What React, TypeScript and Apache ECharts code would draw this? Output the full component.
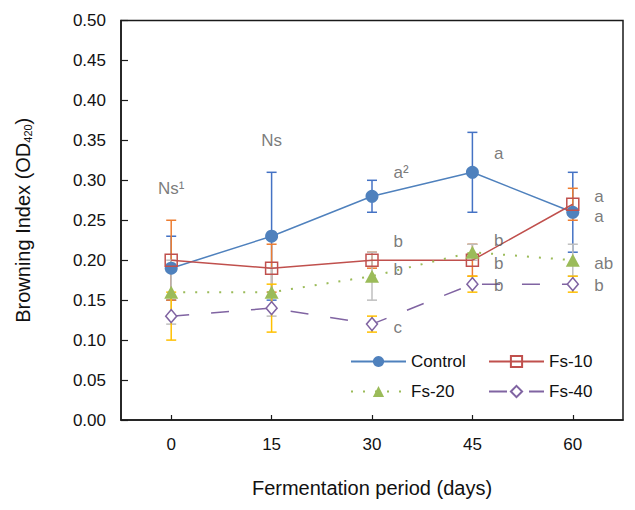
import React, { useEffect, useRef } from "react";
import * as echarts from "echarts";

const days = [0, 15, 30, 45, 60];
const yTickValues = [0, 0.05, 0.1, 0.15, 0.2, 0.25, 0.3, 0.35, 0.4, 0.45, 0.5];

const control = [0.19, 0.23, 0.28, 0.31, 0.26];
const controlErr = [0.04, 0.08, 0.02, 0.05, 0.05];
const fs10 = [0.2, 0.19, 0.2, 0.2, 0.27];
const fs10Err = [0.05, 0.03, 0.01, 0.02, 0.02];
const fs20 = [0.16, 0.16, 0.18, 0.21, 0.2];
const fs20Err = [0.04, 0.03, 0.03, 0.01, 0.02];
const fs40 = [0.13, 0.14, 0.12, 0.17, 0.17];
const fs40Err = [0.03, 0.03, 0.01, 0.01, 0.01];

// centered annotations: [day, value, text]
const centerNotes: [number, number, string][] = [
  [0, 0.29, "Ns\u00b9"],
  [15, 0.35, "Ns"],
];
// right-of-point annotations: [day, value, text]
const sideNotes: [number, number, string][] = [
  [30, 0.31, "a\u00b2"],
  [45, 0.333, "a"],
  [60, 0.28, "a"],
  [60, 0.255, "a"],
  [30, 0.224, "b"],
  [30, 0.188, "b"],
  [30, 0.116, "c"],
  [45, 0.225, "b"],
  [45, 0.196, "b"],
  [45, 0.168, "b"],
  [60, 0.196, "ab"],
  [60, 0.168, "b"],
];

const FONT = "Liberation Sans, Arial, sans-serif";

function errSeries(name: string, vals: number[], errs: number[], color: string) {
  return {
    type: "custom",
    name,
    z: 1,
    silent: true,
    data: days.map((d, i) => [d, vals[i] - errs[i], vals[i] + errs[i]]),
    encode: { x: 0, y: [1, 2] },
    renderItem: (params: any, api: any) => {
      const lo = api.coord([api.value(0), api.value(1)]);
      const hi = api.coord([api.value(0), api.value(2)]);
      const hw = 5;
      const style = { stroke: color, lineWidth: 1.5 };
      return {
        type: "group",
        children: [
          { type: "line", shape: { x1: lo[0], y1: lo[1], x2: hi[0], y2: hi[1] }, style },
          { type: "line", shape: { x1: lo[0] - hw, y1: lo[1], x2: lo[0] + hw, y2: lo[1] }, style },
          { type: "line", shape: { x1: hi[0] - hw, y1: hi[1], x2: hi[0] + hw, y2: hi[1] }, style },
        ],
      };
    },
  };
}

export default function App() {
  const ref = useRef<HTMLDivElement>(null);
  useEffect(() => {
    document.body.style.margin = "0";
    if (!ref.current) return;
    const chart = echarts.init(ref.current, undefined, { renderer: "svg" });
    const legendCommon = {
      orient: "horizontal",
      padding: 0,
      itemWidth: 55,
      itemHeight: 14,
      itemGap: 0,
      textStyle: { fontFamily: FONT, fontSize: 17, color: "#111" },
    };
    chart.setOption({
      animation: false,
      backgroundColor: "#fff",
      grid: {
        left: 121,
        right: 12,
        top: 20.5,
        bottom: 90,
        show: true,
        borderColor: "#1a1a1a",
        borderWidth: 1.5,
      },
      legend: [
        { ...legendCommon, left: 350, top: 353, data: ["Control"] },
        { ...legendCommon, left: 488, top: 353, data: ["Fs-10"] },
        { ...legendCommon, left: 350, top: 383, data: ["Fs-20"] },
        { ...legendCommon, left: 488, top: 383, data: ["Fs-40"] },
      ],
      xAxis: {
        type: "value",
        min: -7.5,
        max: 67.5,
        splitLine: { show: false },
        axisLine: { show: true, onZero: false, lineStyle: { color: "#1a1a1a", width: 1.5 } },
        axisTick: { show: true, inside: true, length: 5, customValues: days, lineStyle: { color: "#1a1a1a", width: 1.2 } },
        axisLabel: { customValues: days, fontFamily: FONT, fontSize: 17, color: "#111", margin: 16 },
        name: "Fermentation period (days)",
        nameLocation: "middle",
        nameGap: 58,
        nameTextStyle: { fontFamily: FONT, fontSize: 20, color: "#111" },
      },
      yAxis: {
        type: "value",
        min: 0,
        max: 0.5,
        interval: 0.05,
        splitLine: { show: false },
        axisLine: { show: true, onZero: false, lineStyle: { color: "#1a1a1a", width: 1.5 } },
        axisTick: { show: true, inside: true, length: 7, lineStyle: { color: "#1a1a1a", width: 1.2 } },
        axisLabel: {
          fontFamily: FONT,
          fontSize: 17,
          color: "#111",
          margin: 15,
          formatter: (v: number) => {
            const t = yTickValues.find((x) => Math.abs(x - v) < 1e-9);
            return (t !== undefined ? t : v).toFixed(2);
          },
        },
        name: "Browning Index (OD{sub|420})",
        nameLocation: "middle",
        nameGap: 88,
        nameTextStyle: {
          fontFamily: FONT,
          fontSize: 20,
          color: "#111",
          rich: {
            sub: { fontFamily: FONT, fontSize: 11, color: "#111", padding: [9, 0, 0, 0] },
          },
        },
      },
      series: [
        errSeries("errControl", control, controlErr, "#4472C4"),
        errSeries("errFs10", fs10, fs10Err, "#ED7D31"),
        errSeries("errFs20", fs20, fs20Err, "#BFBFBF"),
        errSeries("errFs40", fs40, fs40Err, "#FFC000"),
        {
          type: "line",
          name: "Control",
          z: 3,
          data: days.map((d, i) => [d, control[i]]),
          symbol: "circle",
          symbolSize: 13,
          color: "#4F81BD",
          lineStyle: { color: "#4F81BD", width: 1.5 },
          itemStyle: { color: "#4F81BD" },
        },
        {
          type: "line",
          name: "Fs-10",
          z: 3,
          data: days.map((d, i) => [d, fs10[i]]),
          symbol: "rect",
          symbolSize: 12,
          color: "#C0504D",
          lineStyle: { color: "#C0504D", width: 1.5 },
          itemStyle: { color: "rgba(255,255,255,0)", borderColor: "#C0504D", borderWidth: 1.5 },
        },
        {
          type: "line",
          name: "Fs-20",
          z: 3,
          data: days.map((d, i) => [d, fs20[i]]),
          symbol: "triangle",
          symbolSize: [14, 13],
          color: "#9BBB59",
          lineStyle: { color: "#9BBB59", width: 2, type: [2, 10] },
          itemStyle: { color: "#9BBB59" },
        },
        {
          type: "line",
          name: "Fs-40",
          z: 3,
          data: days.map((d, i) => [d, fs40[i]]),
          symbol: "diamond",
          symbolSize: [11, 13],
          color: "#8064A2",
          lineStyle: { color: "#8064A2", width: 1.5, type: [18, 22] },
          itemStyle: { color: "#fff", borderColor: "#8064A2", borderWidth: 1.5 },
        },
        {
          type: "scatter",
          name: "notesCenter",
          z: 5,
          silent: true,
          symbolSize: 1,
          itemStyle: { color: "rgba(0,0,0,0)" },
          data: centerNotes,
          label: {
            show: true,
            position: "inside",
            formatter: (p: any) => p.data[2],
            fontFamily: FONT,
            fontSize: 17,
            color: "#595959",
          },
        },
        {
          type: "scatter",
          name: "notesSide",
          z: 5,
          silent: true,
          symbolSize: 1,
          itemStyle: { color: "rgba(0,0,0,0)" },
          data: sideNotes,
          label: {
            show: true,
            position: "right",
            distance: 21,
            formatter: (p: any) => p.data[2],
            fontFamily: FONT,
            fontSize: 17,
            color: "#595959",
          },
        },
      ],
    });
    return () => chart.dispose();
  }, []);
  return <div ref={ref} style={{ width: 635, height: 510 }} />;
}
